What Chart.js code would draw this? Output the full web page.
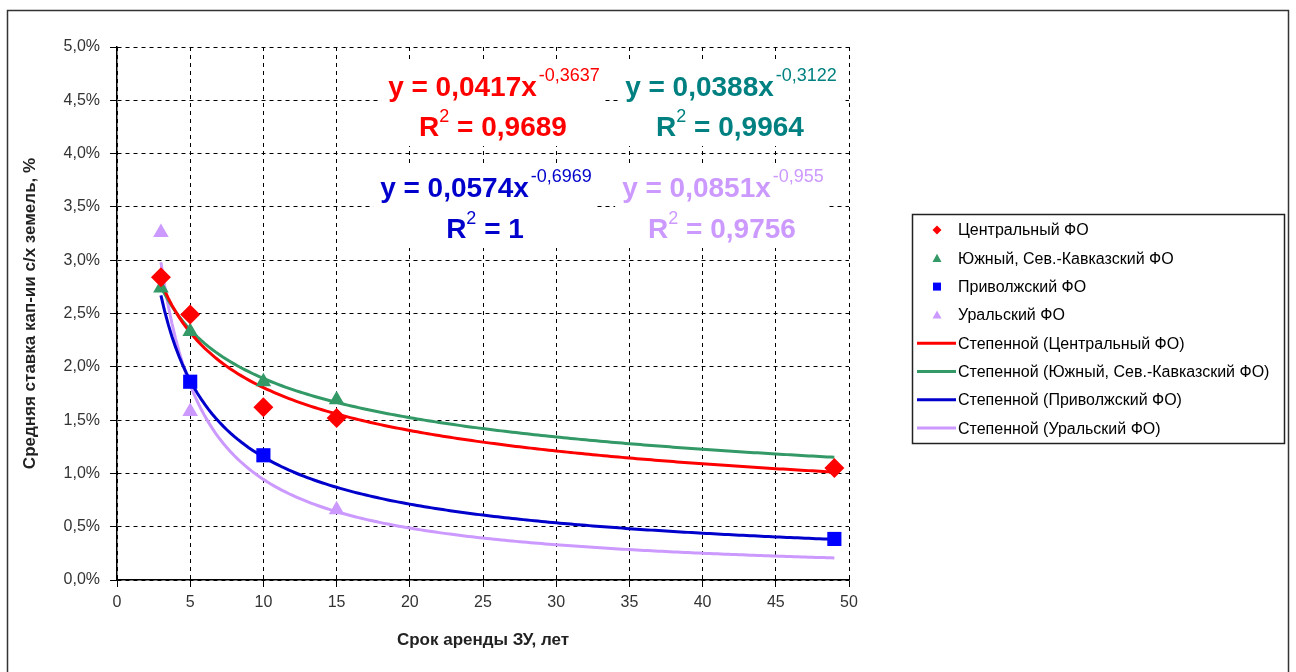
<!DOCTYPE html>
<html>
<head>
<meta charset="utf-8">
<script src="https://cdn.jsdelivr.net/npm/chart.js@4"></script>
<style>
  html, body { margin: 0; padding: 0; background: #fff; }
  #wrap { width: 1296px; height: 672px; }
</style>
</head>
<body>
<div id="wrap"><canvas id="chart" width="1296" height="672"></canvas></div>
<script>
// значения (ставка в %)
var seriesNames = ["Центральный ФО", "Южный, Сев.-Кавказский ФО", "Приволжский ФО", "Уральский ФО"];
var centerX = [3, 5, 10, 15, 49];
var centerY = [2.84, 2.49, 1.62, 1.52, 1.05];
var southX = [3, 5, 10, 15];
var southY = [2.74, 2.33, 1.86, 1.69];
var volgaX = [5, 10, 49];
var volgaY = [1.86, 1.17, 0.385];
var uralX = [3, 5, 15];
var uralY = [3.26, 1.58, 0.66];

// степенные линии тренда (коэффициенты из подписей на графике)
var fitA = [0.0417, 0.0388, 0.0574, 0.0851];
var fitB = [-0.3637, -0.3122, -0.6969, -0.955];
var fitR2 = ["0,9689", "0,9964", "1", "0,9756"];
var fitFrom = 3, fitTo = 49;

var xTicks = [0, 5, 10, 15, 20, 25, 30, 35, 40, 45, 50];
var yTicks = [0, 0.5, 1, 1.5, 2, 2.5, 3, 3.5, 4, 4.5, 5];

var pointColors = ["#ff0000", "#339966", "#0000ff", "#cc99ff"];
var lineColors = ["#ff0000", "#339966", "#0000cc", "#cc99ff"];
var labelColors = ["#ff0000", "#008080", "#0000cc", "#cc99ff"];
var styles = ["rectRot", "triangle", "rect", "triangle"];
var radii = [10, 9, 10, 9];

function pts(xs, ys) {
  return xs.map(function (x, i) { return { x: x, y: ys[i] }; });
}

function trend(k) {
  var out = [];
  for (var x = fitFrom; x <= fitTo + 1e-9; x += 0.25) {
    out.push({ x: x, y: fitA[k] * Math.pow(x, fitB[k]) * 100 });
  }
  return out;
}

var pointSets = [pts(centerX, centerY), pts(southX, southY), pts(volgaX, volgaY), pts(uralX, uralY)];

var datasets = [];
pointSets.forEach(function (d, i) {
  datasets.push({
    label: seriesNames[i],
    data: d,
    showLine: false,
    pointStyle: styles[i],
    pointRadius: radii[i],
    pointHoverRadius: radii[i],
    backgroundColor: pointColors[i],
    borderColor: pointColors[i],
    borderWidth: 0
  });
});
seriesNames.forEach(function (name, i) {
  datasets.push({
    label: "Степенной (" + name + ")",
    data: trend(i),
    showLine: true,
    pointRadius: 0,
    borderColor: lineColors[i],
    backgroundColor: lineColors[i],
    borderWidth: 3,
    tension: 0
  });
});

var FONT = "Arial, 'Liberation Sans', sans-serif";

// рамка вокруг всей диаграммы
var frame = {
  id: "frame",
  beforeDraw: function (chart) {
    var ctx = chart.ctx;
    ctx.save();
    ctx.strokeStyle = "#333";
    ctx.lineWidth = 1.5;
    ctx.strokeRect(7.5, 10.5, 1281, 700);
    ctx.restore();
  }
};

// подписи уравнений трендов (на белой подложке, как в Excel)
var eqPos = [[493, 96, 136], [730, 96, 136], [485, 197, 238], [722, 197, 238]];
var equations = {
  id: "equations",
  afterDatasetsDraw: function (chart) {
    var ctx = chart.ctx;
    ctx.save();
    ctx.textBaseline = "alphabetic";
    ctx.textAlign = "left";
    fitA.forEach(function (a, i) {
      var cx = eqPos[i][0], b1 = eqPos[i][1], b2 = eqPos[i][2];
      var main = "y = " + a.toString().replace(".", ",") + "x";
      var sup = fitB[i].toString().replace(".", ",");
      ctx.font = "bold 28px " + FONT;
      var w1 = ctx.measureText(main).width;
      ctx.font = "18px " + FONT;
      var w2 = ctx.measureText(sup).width;
      var x0 = cx - (w1 + w2) / 2;

      ctx.fillStyle = "#fff";
      ctx.fillRect(x0 - 7, b1 - 33, w1 + w2 + 14, b2 - b1 + 43);

      ctx.fillStyle = labelColors[i];
      ctx.font = "bold 28px " + FONT;
      ctx.fillText(main, x0, b1);
      ctx.font = "18px " + FONT;
      ctx.fillText(sup, x0 + w1 + 2, b1 - 15);

      var r = "R", rest = " = " + fitR2[i];
      ctx.font = "bold 28px " + FONT;
      var wr = ctx.measureText(r).width, wrest = ctx.measureText(rest).width;
      ctx.font = "18px " + FONT;
      var w2b = ctx.measureText("2").width;
      var xr = cx - (wr + w2b + wrest) / 2;
      ctx.font = "bold 28px " + FONT;
      ctx.fillText(r, xr, b2);
      ctx.fillText(rest, xr + wr + w2b, b2);
      ctx.font = "18px " + FONT;
      ctx.fillText("2", xr + wr, b2 - 14);
    });
    ctx.restore();
  }
};

// легенда в рамке справа
var legendBox = {
  id: "legendBox",
  afterDraw: function (chart) {
    var ctx = chart.ctx;
    var left = 912, top = 214, w = 372, h = 229;
    ctx.save();
    ctx.strokeStyle = "#222";
    ctx.lineWidth = 1.5;
    ctx.strokeRect(left + 0.5, top + 0.5, w, h);
    ctx.font = "16px " + FONT;
    ctx.textBaseline = "middle";
    ctx.fillStyle = "#000";
    chart.data.datasets.forEach(function (ds, i) {
      var y = 230 + i * 28.3;
      if (ds.showLine) {
        ctx.strokeStyle = ds.borderColor;
        ctx.lineWidth = 3;
        ctx.beginPath();
        ctx.moveTo(917, y);
        ctx.lineTo(956, y);
        ctx.stroke();
      } else {
        var mx = 937, r = 4.5;
        ctx.fillStyle = ds.backgroundColor;
        ctx.beginPath();
        if (ds.pointStyle === "rectRot") {
          ctx.moveTo(mx, y - r); ctx.lineTo(mx + r, y); ctx.lineTo(mx, y + r); ctx.lineTo(mx - r, y);
        } else if (ds.pointStyle === "rect") {
          ctx.rect(mx - 4, y - 4, 8, 8);
        } else {
          ctx.moveTo(mx, y - r); ctx.lineTo(mx + r, y + r * 0.8); ctx.lineTo(mx - r, y + r * 0.8);
        }
        ctx.closePath();
        ctx.fill();
      }
      ctx.fillStyle = "#000";
      ctx.fillText(ds.label, 958, y + 1);
    });
    ctx.restore();
  }
};

new Chart(document.getElementById("chart"), {
  type: "scatter",
  data: { datasets: datasets },
  plugins: [frame, equations, legendBox],
  options: {
    responsive: false,
    animation: false,
    layout: { padding: { left: 0, top: 47, right: 447, bottom: 0 } },
    plugins: {
      legend: { display: false },
      tooltip: { enabled: false }
    },
    scales: {
      x: {
        type: "linear",
        min: 0,
        max: 50,
        afterBuildTicks: function (s) { s.ticks = xTicks.map(function (v) { return { value: v }; }); },
        afterFit: function (s) { s.height = 92; },
        ticks: { color: "#333", font: { family: FONT, size: 16 }, padding: 6 },
        grid: { color: "#000", lineWidth: 1, tickLength: 7, tickColor: "#000", tickBorderDash: [] },
        border: { color: "#000", width: 1.5, dash: [4, 4] },
        title: { display: true, text: "Срок аренды ЗУ, лет", color: "#222", font: { family: FONT, size: 17, weight: "bold" }, padding: { bottom: 21 } }
      },
      y: {
        min: 0,
        max: 5,
        afterBuildTicks: function (s) { s.ticks = yTicks.map(function (v) { return { value: v }; }); },
        afterFit: function (s) { s.width = 117; },
        ticks: {
          color: "#333",
          font: { family: FONT, size: 16 },
          padding: 10,
          callback: function (v) { return v.toFixed(1).replace(".", ",") + "%"; }
        },
        grid: { color: "#000", lineWidth: 1, tickLength: 7, tickColor: "#000", tickBorderDash: [] },
        border: { color: "#000", width: 1.5, dash: [4, 4] },
        title: { display: true, text: "Средняя ставка кап-ии с/х земель, %", color: "#222", font: { family: FONT, size: 17, weight: "bold" }, padding: { top: 20 } }
      }
    }
  }
});
</script>
</body>
</html>
